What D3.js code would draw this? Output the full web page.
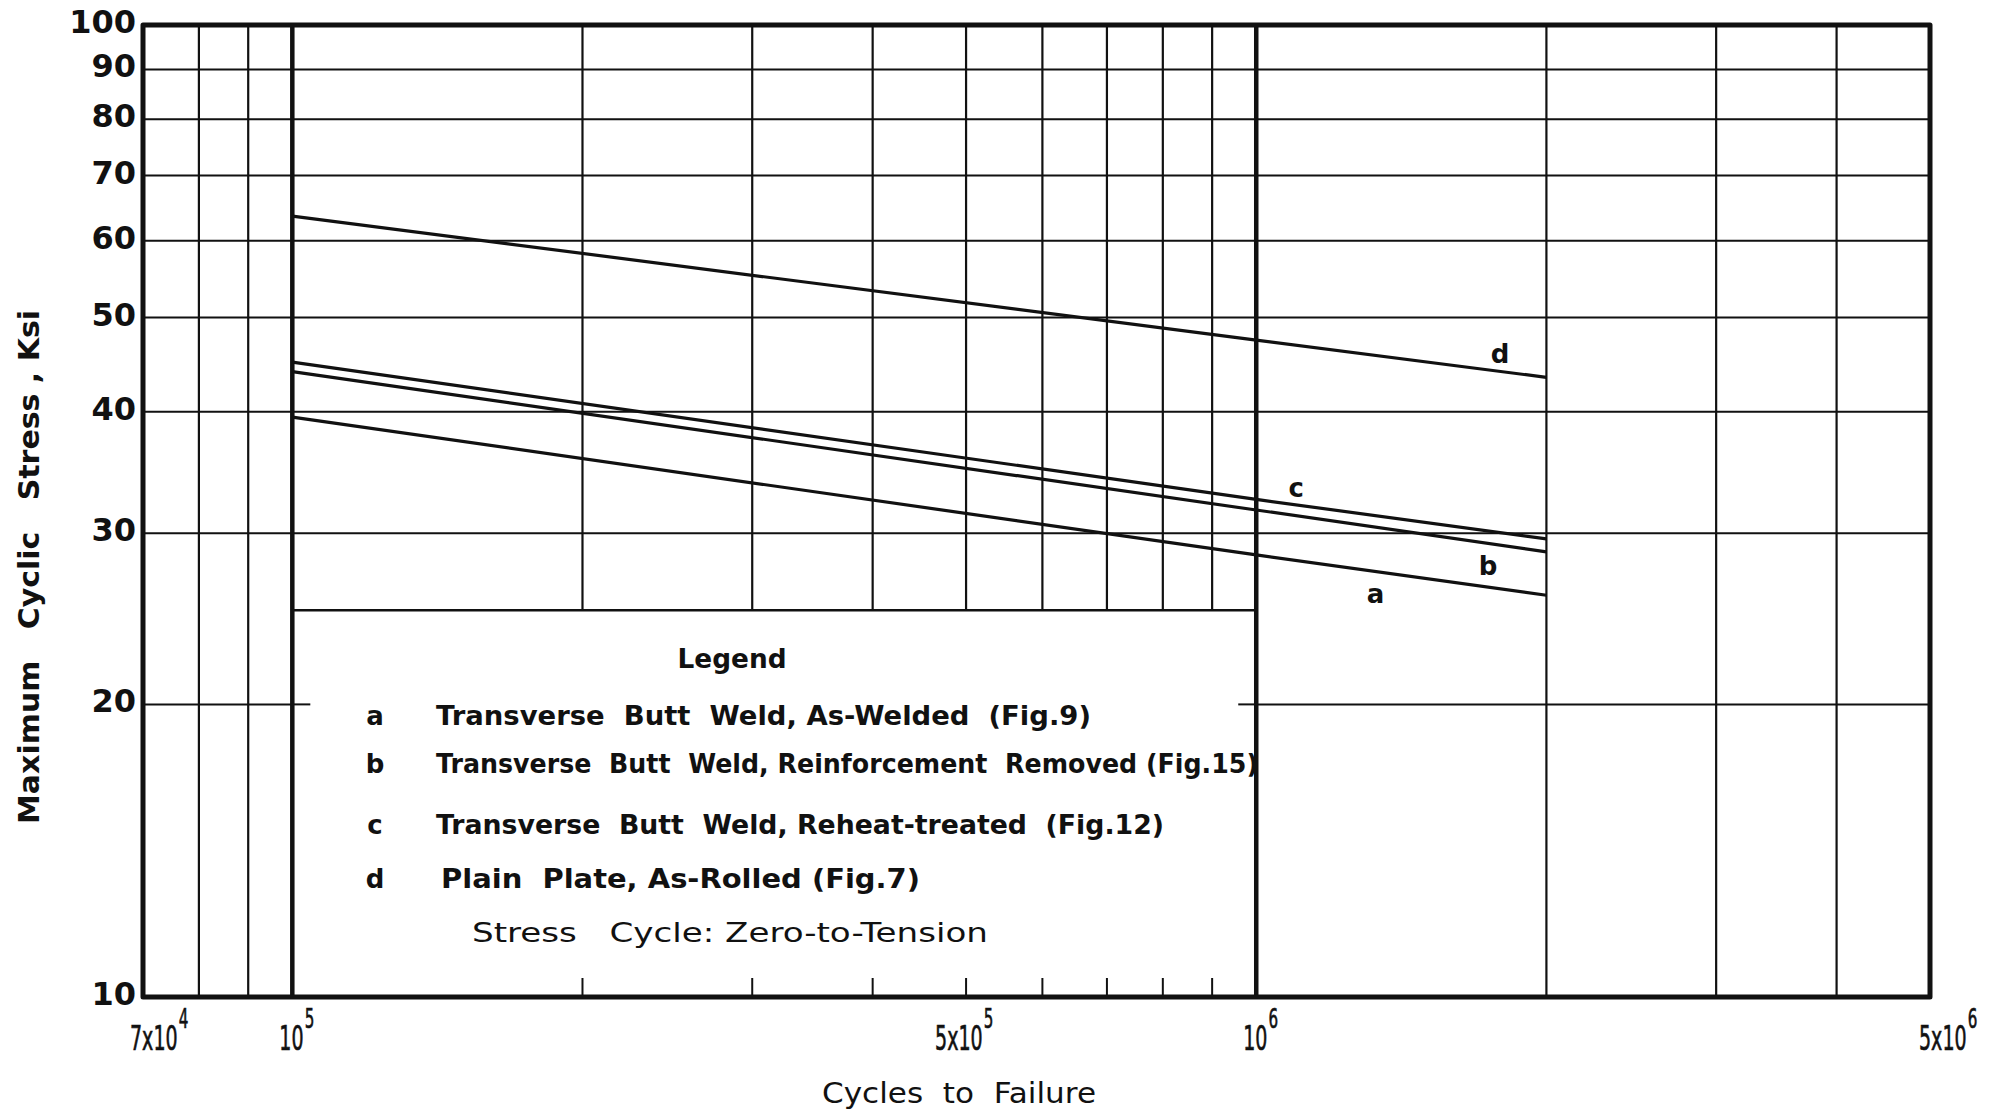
<!DOCTYPE html>
<html lang="en">
  <head>
    <meta charset="UTF-8" />
    <title>Maximum Cyclic Stress vs Cycles to Failure</title>
    <script src="https://d3js.org/d3.v7.min.js"></script>
    <style>
      body {
        margin: 0;
        background: #fff;
      }
      text {
        fill: #111;
        white-space: pre;
      }
      .ytick {
        font-family: "DejaVu Sans", sans-serif;
        font-weight: bold;
        font-size: 32px;
      }
      .xtick,
      .xtitle {
        font-family: "DejaVu Sans", sans-serif;
        font-size: 34px;
      }
      .xtick {
        stroke: #111;
        stroke-width: 0.7px;
      }
      .ytitle,
      .legend,
      .series-label {
        font-family: "DejaVu Sans", sans-serif;
        font-weight: bold;
        font-size: 26px;
      }
      .ytitle {
        font-size: 28px;
      }
    </style>
  </head>
  <body>
    <svg id="chart" width="1992" height="1113"></svg>

    <script>
      // data
      const cycles = [1e5, 1e6, 2e6];
      const seriesA = [39.5, 28.5, 25.9];
      const seriesB = [44.0, 31.7, 28.7];
      const seriesC = [45.0, 32.5, 29.6];
      const seriesD = [63.6, 47.4, 43.4];
      const seriesNames = ["a", "b", "c", "d"];
      const legendText = [
        "Transverse  Butt  Weld, As-Welded  (Fig.9)",
        "Transverse  Butt  Weld, Reinforcement  Removed (Fig.15)",
        "Transverse  Butt  Weld, Reheat-treated  (Fig.12)",
        "Plain  Plate, As-Rolled (Fig.7)",
      ];
      const stressNote = "Stress   Cycle: Zero-to-Tension";

      const stressTicks = [10, 20, 30, 40, 50, 60, 70, 80, 90, 100];
      const cycleGrid = [8e4, 9e4, 2e5, 3e5, 4e5, 5e5, 6e5, 7e5, 8e5, 9e5, 2e6, 3e6, 4e6];
      const decadeLines = [1e5, 1e6];
      const cycleLabelValues = [7e4, 1e5, 5e5, 1e6, 5e6];
      const cycleLabelBase = ["7x10", "10", "5x10", "10", "5x10"];
      const cycleLabelExp = ["4", "5", "5", "6", "6"];

      const ink = "#111";
      const svg = d3.select("#chart");

      const x = d3.scaleLog().domain([7e4, 5e6]).range([143, 1930]);
      const y = d3.scaleLog().domain([10, 100]).range([997, 25]);
      const [x0, x1] = x.range();

      const grid = svg.append("g");

      // horizontal lines
      grid
        .selectAll(".hgrid")
        .data(stressTicks.slice(1, -1))
        .join("line")
        .attr("x1", x0)
        .attr("x2", x1)
        .attr("y1", (d) => y(d))
        .attr("y2", (d) => y(d))
        .attr("stroke", ink)
        .attr("stroke-width", 2);

      // vertical lines
      grid
        .selectAll(".vgrid")
        .data(cycleGrid)
        .join("line")
        .attr("x1", (d) => x(d))
        .attr("x2", (d) => x(d))
        .attr("y1", y(100))
        .attr("y2", y(10))
        .attr("stroke", ink)
        .attr("stroke-width", 2.2);

      // blank panel for the legend, between 10^5 and 10^6
      const boxTop = 25;
      grid
        .append("rect")
        .attr("x", x(1e5))
        .attr("y", y(boxTop))
        .attr("width", x(1e6) - x(1e5))
        .attr("height", y(10) - y(boxTop))
        .attr("fill", "#fff");
      grid
        .append("line")
        .attr("x1", x(1e5))
        .attr("x2", x(1e6))
        .attr("y1", y(boxTop))
        .attr("y2", y(boxTop))
        .attr("stroke", ink)
        .attr("stroke-width", 2.5);

      // short ticks along the bottom inside the legend panel
      grid
        .selectAll(".btick")
        .data(cycleGrid.filter((d) => d > 1e5 && d < 1e6))
        .join("line")
        .attr("x1", (d) => x(d))
        .attr("x2", (d) => x(d))
        .attr("y1", y(10) - 19)
        .attr("y2", y(10))
        .attr("stroke", ink)
        .attr("stroke-width", 2);

      // stubs of the 20 ksi line poking into the panel
      [
        [x(1e5), x(1e5) + 18],
        [x(1e6) - 18, x(1e6)],
      ].forEach(([a, b]) => {
        grid
          .append("line")
          .attr("x1", a)
          .attr("x2", b)
          .attr("y1", y(20))
          .attr("y2", y(20))
          .attr("stroke", ink)
          .attr("stroke-width", 2);
      });

      // heavy decade lines
      grid
        .selectAll(".decade")
        .data(decadeLines)
        .join("line")
        .attr("x1", (d) => x(d))
        .attr("x2", (d) => x(d))
        .attr("y1", y(100))
        .attr("y2", y(10))
        .attr("stroke", ink)
        .attr("stroke-width", 4.5);

      // frame
      svg
        .append("rect")
        .attr("x", x0)
        .attr("y", y(100))
        .attr("width", x1 - x0)
        .attr("height", y(10) - y(100))
        .attr("fill", "none")
        .attr("stroke", ink)
        .attr("stroke-width", 5)
        .attr("stroke-linejoin", "round");

      // S-N lines
      const allSeries = [seriesA, seriesB, seriesC, seriesD];
      const line = d3
        .line()
        .x((d, i) => x(cycles[i]))
        .y((d) => y(d));

      svg
        .selectAll(".sn")
        .data(allSeries)
        .join("path")
        .attr("d", line)
        .attr("fill", "none")
        .attr("stroke", ink)
        .attr("stroke-width", 3.2);

      // letters next to the lines
      const labelAt = [1.33e6, 1.74e6, 1.1e6, 1.79e6];
      const labelShift = [22, 22, -17, -17];
      function valueAt(values, c) {
        const k = c <= cycles[1] ? 0 : 1;
        const t = Math.log(c / cycles[k]) / Math.log(cycles[k + 1] / cycles[k]);
        return Math.exp(Math.log(values[k]) + t * Math.log(values[k + 1] / values[k]));
      }
      svg
        .selectAll(".series-label")
        .data(seriesNames)
        .join("text")
        .attr("class", "series-label")
        .attr("x", (d, i) => x(labelAt[i]))
        .attr("y", (d, i) => y(valueAt(allSeries[i], labelAt[i])) + labelShift[i])
        .attr("text-anchor", "middle")
        .attr("dominant-baseline", "central")
        .text((d) => d);

      // y tick labels
      svg
        .selectAll(".ytick")
        .data(stressTicks)
        .join("text")
        .attr("class", "ytick")
        .attr("x", 136)
        .attr("y", (d) => y(d) - 3)
        .attr("text-anchor", "end")
        .attr("dominant-baseline", "central")
        .text((d) => d);

      // x tick labels: narrow lettering with a raised exponent
      const last = cycleLabelValues.length - 1;
      const labelStart = (d, i) =>
        i === 0 ? x(d) - 13 : i === last ? x(d) - 11 : x(d) - (cycleLabelBase[i].length === 2 ? 13 : 31);
      const xl = svg
        .selectAll(".xtick")
        .data(cycleLabelValues)
        .join("text")
        .attr("class", "xtick")
        .attr("transform", (d, i) => `translate(${labelStart(d, i)},1050) scale(0.56,1)`);
      xl.append("tspan").text((d, i) => cycleLabelBase[i]);
      xl.append("tspan")
        .attr("dx", 2)
        .attr("dy", -22)
        .attr("font-size", "27px")
        .text((d, i) => cycleLabelExp[i]);

      // axis titles
      svg
        .append("text")
        .attr("class", "xtitle")
        .attr("x", 959)
        .attr("y", 1103)
        .attr("text-anchor", "middle")
        .attr("textLength", 274)
        .attr("lengthAdjust", "spacingAndGlyphs")
        .style("font-size", "29px")
        .text("Cycles  to  Failure");

      svg
        .append("text")
        .attr("class", "ytitle")
        .attr("transform", "translate(39,567) rotate(-90)")
        .attr("text-anchor", "middle")
        .attr("textLength", 514)
        .attr("lengthAdjust", "spacingAndGlyphs")
        .text("Maximum   Cyclic   Stress , Ksi");

      // legend
      const legend = svg.append("g");
      legend
        .append("text")
        .attr("class", "legend")
        .attr("x", 732)
        .attr("y", 668)
        .attr("text-anchor", "middle")
        .attr("textLength", 109)
        .attr("lengthAdjust", "spacingAndGlyphs")
        .text("Legend");

      const rowY = [725, 773, 834, 888];
      const rowStart = [436, 436, 436, 441];
      const rowWidth = [655, 822, 728, 479];
      legend
        .selectAll(".key")
        .data(seriesNames)
        .join("text")
        .attr("class", "legend")
        .attr("x", 375)
        .attr("y", (d, i) => rowY[i])
        .attr("text-anchor", "middle")
        .text((d) => d);
      legend
        .selectAll(".entry")
        .data(legendText)
        .join("text")
        .attr("class", "legend")
        .attr("x", (d, i) => rowStart[i])
        .attr("y", (d, i) => rowY[i])
        .attr("textLength", (d, i) => rowWidth[i])
        .attr("lengthAdjust", "spacingAndGlyphs")
        .text((d) => d);
      legend
        .append("text")
        .attr("class", "legend")
        .attr("x", 472)
        .attr("y", 942)
        .attr("textLength", 516)
        .attr("lengthAdjust", "spacingAndGlyphs")
        .style("font-weight", "normal")
        .text(stressNote);
    </script>
  </body>
</html>
